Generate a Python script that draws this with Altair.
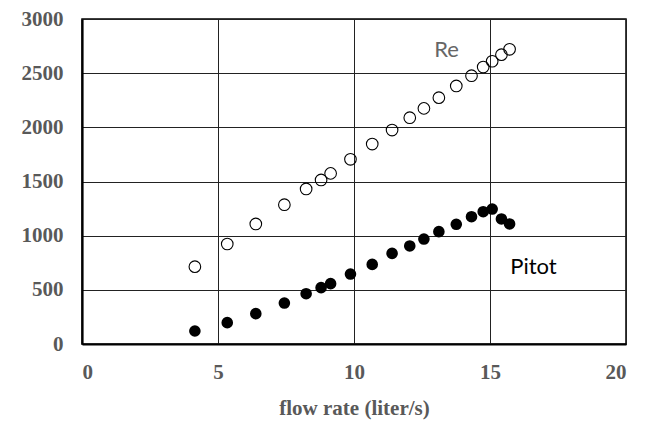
import altair as alt
import pandas as pd

flow = [4.15, 5.34, 6.39, 7.44, 8.24, 8.79, 9.14, 9.87, 10.67, 11.40, 12.05, 12.57,
        13.12, 13.76, 14.32, 14.75, 15.08, 15.42, 15.72]
re_vals = [714, 923, 1108, 1286, 1431, 1514, 1575, 1705, 1846, 1975, 2089, 2175,
           2274, 2382, 2477, 2557, 2610, 2671, 2720]
pitot_vals = [120, 197, 280, 378, 464, 520, 557, 646, 735, 837, 905, 969,
              1037, 1105, 1175, 1221, 1246, 1154, 1108]

label_text = ["Re", "Pitot"]
label_x = [13.4, 16.6]
label_y = [2714, 714]
label_color = ["#666666", "#000000"]

df_re = pd.DataFrame({"flow": flow, "value": re_vals})
df_pitot = pd.DataFrame({"flow": flow, "value": pitot_vals})
df_lab = pd.DataFrame({"text": label_text, "x": label_x, "y": label_y, "color": label_color})

xs = alt.Scale(domain=[0, 20], nice=False, zero=False)
ys = alt.Scale(domain=[0, 3000], nice=False)

xaxis = alt.Axis(values=[0, 5, 10, 15, 20], title="flow rate (liter/s)", grid=True,
                 ticks=False, labelPadding=17, titlePadding=15, format="d")
yaxis = alt.Axis(values=[0, 500, 1000, 1500, 2000, 2500, 3000], title=None, grid=True,
                 ticks=False, labelPadding=19, format="d")

re_layer = alt.Chart(df_re).mark_point(shape="circle", filled=False, size=135,
                                       stroke="black", strokeWidth=1.1, opacity=1).encode(
    x=alt.X("flow:Q", scale=xs, axis=xaxis),
    y=alt.Y("value:Q", scale=ys, axis=yaxis),
)

pitot_layer = alt.Chart(df_pitot).mark_circle(size=135, color="black", opacity=1).encode(
    x=alt.X("flow:Q", scale=xs),
    y=alt.Y("value:Q", scale=ys),
)

labels = alt.Chart(df_lab).mark_text(font="Lato", fontSize=22, align="center",
                                     baseline="middle").encode(
    x=alt.X("x:Q", scale=xs),
    y=alt.Y("y:Q", scale=ys),
    text="text:N",
    color=alt.Color("color:N", scale=None),
)

chart = (re_layer + pitot_layer + labels).properties(
    width=544, height=325,
    autosize=alt.AutoSizeParams(type="none"),
    padding={"left": 74, "top": 11, "right": 10, "bottom": 76},
).configure_view(
    stroke="black", strokeWidth=1.5
).configure_axis(
    labelFont="Liberation Serif", labelFontWeight="bold", labelFontSize=21,
    labelColor="#595959", titleFont="Liberation Serif", titleFontWeight="bold",
    titleFontSize=21, titleColor="#595959", gridColor="#222222", gridWidth=1,
    gridOpacity=1, domainColor="black", domainWidth=2.2
)

chart.save("out.html", embed_options={"renderer": "svg", "actions": False})
